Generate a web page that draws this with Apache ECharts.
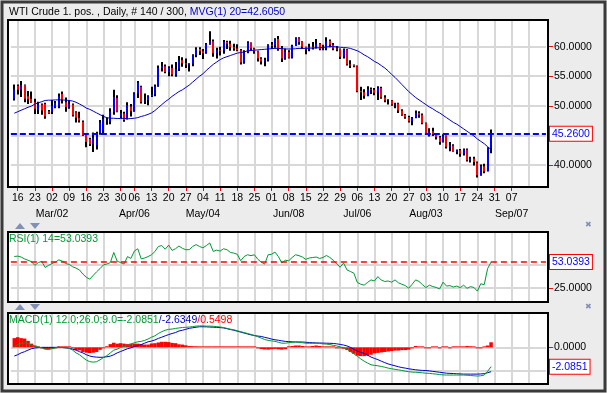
<!DOCTYPE html>
<html><head><meta charset="utf-8">
<script src="https://cdn.jsdelivr.net/npm/echarts@6/dist/echarts.min.js"></script>
<style>html,body{margin:0;padding:0;background:#ececec}#c{width:607px;height:393px}</style>
</head><body><div id="c"></div>
<script>
// ---------- categories (trading days) ----------
const preDate = '02-12';
const dates = ['02-13','02-16','02-17','02-18','02-19','02-20','02-23','02-24','02-25','02-26','02-27',
'03-02','03-03','03-04','03-05','03-06','03-09','03-10','03-11','03-12','03-13','03-16','03-17','03-18','03-19','03-20','03-23','03-24','03-25','03-26','03-27','03-30','03-31',
'04-01','04-02','04-06','04-07','04-08','04-09','04-10','04-13','04-14','04-15','04-16','04-17','04-20','04-21','04-22','04-23','04-24','04-27','04-28','04-29','04-30',
'05-01','05-04','05-05','05-06','05-07','05-08','05-11','05-12','05-13','05-14','05-15','05-18','05-19','05-20','05-21','05-22','05-25','05-26','05-27','05-28','05-29',
'06-01','06-02','06-03','06-04','06-05','06-08','06-09','06-10','06-11','06-12','06-15','06-16','06-17','06-18','06-19','06-22','06-23','06-24','06-25','06-26','06-29','06-30',
'07-01','07-02','07-03','07-06','07-07','07-08','07-09','07-10','07-13','07-14','07-15','07-16','07-17','07-20','07-21','07-22','07-23','07-24','07-27','07-28','07-29','07-30','07-31',
'08-03','08-04','08-05','08-06','08-07','08-10','08-11','08-12','08-13','08-14','08-17','08-18','08-19','08-20','08-21','08-24','08-25','08-26','08-27','08-28'];
const futureDates = ['08-31','09-01','09-02','09-03','09-04','09-07','09-08','09-09','09-10','09-11','09-14','09-15','09-16','09-17','09-18','09-21'];
const weekStarts = ['02-16','02-23','03-02','03-09','03-16','03-23','03-30','04-06','04-13','04-20','04-27','05-04','05-11','05-18','05-25','06-01','06-08','06-15','06-22','06-29','07-06','07-13','07-20','07-27','08-03','08-10','08-17','08-24','08-31','09-07','09-14'];
const monthLabels = {'03-02':'Mar/02','04-06':'Apr/06','05-04':'May/04','06-08':'Jun/08','07-06':'Jul/06','08-03':'Aug/03','09-07':'Sep/07'};

// ---------- price (OHLC) ----------
const open = [51.2,53.4,52.7,53.5,51.6,51.2,50.6,49.3,50.2,50.3,49.1,
49.0,49.8,49.9,52.0,50.6,49.8,50.2,48.9,48.0,47.3,45.1,44.4,43.5,43.3,45.4,45.8,47.5,47.3,49.0,51.3,48.2,48.7,
47.9,49.9,49.1,52.1,53.2,50.8,51.0,51.6,51.9,53.3,56.4,56.7,55.7,56.4,55.3,56.2,57.7,57.2,57.0,57.1,58.6,
59.6,59.2,58.9,60.4,60.9,58.9,59.4,59.3,60.8,60.5,59.9,59.7,59.4,57.3,59.0,60.7,59.7,59.2,58.0,57.5,57.7,
60.3,60.2,61.3,59.6,58.0,59.1,58.1,60.1,61.4,60.8,60.0,59.5,60.0,59.9,60.5,59.6,59.7,61.0,60.3,59.7,59.6,58.3,
59.5,57.0,56.9,56.7,52.5,52.3,51.7,52.8,52.7,52.2,53.0,51.4,50.9,50.9,50.2,50.4,49.2,48.5,48.1,47.4,48.0,48.8,48.5,
47.1,45.2,45.7,45.2,44.7,43.9,45.0,43.1,43.3,42.2,42.5,41.9,42.6,40.8,41.1,40.4,38.3,39.8,39.0,42.9];
const high = [53.6,53.6,54.2,53.6,52.5,52.4,51.2,50.7,50.4,50.5,49.3,
51.0,50.8,52.1,52.4,51.4,51.0,50.4,49.1,49.0,47.5,45.4,44.6,45.5,45.6,47.6,48.5,48.0,49.6,52.7,51.8,49.3,49.0,
50.6,50.3,52.3,54.2,53.4,52.1,51.8,53.2,53.6,56.8,57.4,57.0,56.7,57.0,57.4,58.4,58.2,58.0,57.2,58.7,59.9,
59.9,59.6,60.6,62.6,61.2,59.8,60.0,61.1,61.0,61.0,60.5,60.4,59.6,59.4,60.9,60.7,59.8,59.3,58.2,58.1,60.4,
60.8,61.4,61.8,60.1,59.7,59.4,60.3,61.6,61.6,60.9,60.0,60.5,60.8,61.3,60.6,60.3,61.6,61.2,60.6,60.1,59.7,59.7,
59.6,57.7,57.0,56.8,53.2,52.8,53.3,53.1,53.0,53.3,53.2,51.8,51.1,51.0,50.5,50.5,49.4,48.6,48.3,48.1,49.2,49.1,48.7,
47.2,46.2,46.3,45.3,44.9,45.2,45.0,43.9,43.5,42.6,42.7,42.8,42.8,41.4,41.4,40.6,40.1,40.2,43.0,46.0];
const low = [50.9,51.9,51.5,50.6,50.3,50.5,48.6,48.6,48.5,47.8,48.6,
48.6,49.6,49.6,50.4,49.0,49.5,48.2,47.2,47.2,44.9,43.0,43.2,42.2,42.6,45.1,45.4,46.8,46.9,48.5,48.9,47.9,47.3,
47.7,48.2,49.0,51.3,50.4,50.3,50.1,51.5,51.6,53.2,55.8,55.5,55.0,55.0,54.9,55.9,56.6,56.4,55.8,56.7,58.2,
58.6,57.9,58.8,60.3,58.3,58.0,58.5,58.8,59.6,59.3,59.3,59.2,57.0,57.1,58.9,59.3,58.8,57.5,57.0,56.7,57.5,
59.6,59.8,59.3,57.4,57.8,58.0,58.0,60.1,60.3,59.6,58.7,59.2,59.5,59.7,59.4,59.4,59.4,59.9,59.4,59.2,57.9,58.0,
56.8,56.4,56.5,52.3,51.0,51.2,51.6,52.0,51.8,51.0,51.2,50.6,50.2,50.0,49.6,48.8,48.3,47.8,47.2,46.7,47.9,48.0,46.9,
45.2,44.8,44.9,44.3,43.4,43.8,42.8,42.3,42.2,41.8,41.4,41.6,40.6,40.4,39.9,37.9,38.2,38.6,38.9,42.0];
const close = [52.8,52.7,53.5,51.2,51.1,50.6,49.5,50.2,49.2,48.2,48.7,
50.0,50.5,51.6,51.0,49.8,50.3,48.4,48.0,47.5,45.0,43.9,43.5,44.6,45.1,47.2,47.8,47.7,49.1,51.5,49.0,48.8,47.6,
50.1,49.1,52.1,53.9,50.6,50.9,51.6,51.9,53.3,56.4,56.7,55.7,56.4,55.3,56.2,57.7,57.2,57.0,57.1,58.6,59.6,
59.2,58.9,60.4,60.9,58.9,59.4,59.3,60.8,60.5,59.9,59.7,59.4,57.3,59.0,60.7,59.7,59.2,58.0,57.5,57.7,60.3,
60.2,61.3,59.6,58.0,59.1,58.1,60.1,61.4,60.8,60.0,59.5,60.0,59.9,60.5,59.6,59.7,61.0,60.3,59.7,59.6,58.3,59.5,
57.0,56.9,56.7,52.5,52.3,51.7,52.8,52.7,52.2,53.0,51.4,50.9,50.9,50.2,50.4,49.2,48.5,48.1,47.4,48.0,48.8,48.5,47.1,
45.2,45.7,45.2,44.7,43.9,45.0,43.1,43.3,42.2,42.5,41.9,42.6,40.8,41.1,40.5,38.3,39.8,38.9,42.9,45.26];
const ma20 = [48.75,49.0,49.25,49.5,49.75,49.95,50.3,50.5,50.7,50.9,50.95,
50.95,51.0,51.0,51.0,50.95,50.9,50.8,50.6,50.3,50.0,49.6,49.4,49.1,48.8,48.5,48.2,48.0,47.9,47.9,47.85,47.85,47.9,
47.8,47.85,47.9,48.0,48.2,48.35,48.55,48.8,49.2,49.7,50.2,50.7,51.1,51.6,52.0,52.4,52.7,53.1,53.5,54.0,54.5,
55.0,55.4,56.0,56.5,57.0,57.4,57.8,58.1,58.3,58.5,58.7,58.9,59.0,59.1,59.3,59.35,59.4,59.45,59.5,59.55,59.6,
59.65,59.7,59.7,59.65,59.6,59.6,59.6,59.65,59.7,59.7,59.7,59.75,59.75,59.8,59.8,59.85,59.95,60.0,60.0,59.95,59.9,59.85,
59.8,59.7,59.5,59.3,59.0,58.6,58.3,57.9,57.5,57.2,56.8,56.4,55.9,55.3,54.8,54.2,53.6,53.0,52.4,51.9,51.4,51.0,50.6,
50.2,49.8,49.5,49.1,48.8,48.4,48.0,47.6,47.2,46.9,46.5,46.1,45.7,45.3,44.9,44.4,44.0,43.6,43.1,42.605];
const priceTicks = [40,45,50,55,60];

// ---------- RSI(14) ----------
const rsi = [59.1,59.5,58.5,56.5,55.0,53.5,49.5,52.5,53.8,47.2,49.5,
51.5,53.0,55.5,54.0,51.5,50.5,48.0,46.5,44.5,40.0,36.5,34.5,38.5,42.5,46.0,50.0,51.0,52.5,63.5,54.0,52.5,51.0,
59.0,57.0,65.0,67.5,56.5,57.5,59.0,61.0,64.5,70.0,71.0,67.0,71.5,65.7,67.5,70.5,68.0,66.5,66.5,70.0,72.0,
70.0,68.5,71.0,73.8,64.6,66.0,65.0,67.5,66.5,63.5,62.8,61.5,54.5,59.0,61.0,60.0,61.0,56.0,53.0,50.9,61.0,
61.5,63.9,59.0,52.0,55.0,54.5,58.0,61.0,60.0,58.5,56.0,57.5,58.0,58.5,57.0,58.0,60.2,58.0,55.0,51.0,47.5,52.0,
44.5,42.8,41.0,31.0,29.0,28.0,31.0,33.7,32.5,37.3,33.5,32.0,32.5,31.2,33.7,30.5,29.0,27.5,24.7,29.0,33.7,32.0,28.5,
25.4,28.0,26.5,25.5,23.9,31.2,27.0,27.5,26.0,27.0,25.3,28.0,24.5,26.4,25.5,21.5,29.5,28.5,46.0,53.0393];
const rsiTicks = [25,50];

// ---------- MACD(12,26,9) ----------
const macd = [0.05,0.3,0.4,0.5,0.4,0.25,0.12,0.02,-0.05,-0.2,-0.22,
-0.15,-0.05,0.0,-0.02,-0.05,-0.1,-0.3,-0.6,-0.8,-1.1,-1.38,-1.55,-1.6,-1.56,-1.35,-1.1,-0.9,-0.6,-0.3,-0.2,0.0,0.1,
0.2,0.35,0.5,0.6,0.65,0.75,0.9,1.1,1.25,1.5,1.7,1.85,1.95,1.98,2.05,2.1,2.15,2.17,2.2,2.25,2.3,
2.32,2.32,2.3,2.3,2.28,2.25,2.2,2.15,2.05,1.97,1.9,1.8,1.7,1.6,1.5,1.4,1.28,1.15,1.0,0.85,0.75,
0.7,0.65,0.55,0.45,0.45,0.5,0.55,0.58,0.55,0.5,0.45,0.44,0.44,0.45,0.42,0.38,0.35,0.3,0.22,0.15,0.05,-0.04,
-0.2,-0.45,-0.7,-0.96,-1.25,-1.5,-1.7,-1.89,-1.95,-2.0,-2.07,-2.15,-2.25,-2.32,-2.38,-2.44,-2.5,-2.58,-2.64,-2.68,-2.7,-2.72,-2.76,
-2.8,-2.82,-2.86,-2.9,-2.95,-2.98,-3.0,-3.0,-3.0,-3.0,-3.0,-3.0,-3.02,-3.05,-3.08,-3.11,-3.08,-3.0,-2.6,-2.0851];
const signal = [-0.94,-0.8,-0.6,-0.47,-0.3,-0.15,-0.07,-0.03,0.0,0.0,0.0,
0.0,0.0,0.0,-0.02,-0.05,-0.1,-0.2,-0.3,-0.47,-0.6,-0.8,-0.94,-1.02,-1.06,-1.08,-1.07,-1.02,-0.95,-0.8,-0.6,-0.45,-0.3,
-0.15,-0.05,0.1,0.2,0.3,0.45,0.6,0.68,0.8,0.97,1.1,1.25,1.38,1.5,1.6,1.77,1.85,1.95,2.06,2.12,2.18,
2.23,2.23,2.22,2.2,2.18,2.16,2.14,2.1,2.02,1.93,1.85,1.75,1.65,1.55,1.45,1.35,1.28,1.22,1.18,1.08,1.0,
0.9,0.82,0.77,0.7,0.65,0.62,0.6,0.58,0.58,0.58,0.55,0.52,0.5,0.48,0.47,0.46,0.45,0.44,0.42,0.38,0.32,0.25,
0.15,0.0,-0.2,-0.4,-0.55,-0.65,-0.85,-1.05,-1.2,-1.33,-1.5,-1.65,-1.8,-1.9,-2.0,-2.1,-2.19,-2.25,-2.32,-2.38,-2.43,-2.47,-2.5,
-2.51,-2.55,-2.6,-2.65,-2.7,-2.75,-2.8,-2.82,-2.84,-2.86,-2.88,-2.9,-2.9,-2.9,-2.9,-2.9,-2.88,-2.85,-2.75,-2.6349];
const hist = [1.0,1.1,1.0,0.95,0.7,0.4,0.2,0.05,-0.05,-0.2,-0.22,
-0.15,-0.05,0.0,0.0,0.0,0.0,-0.1,-0.3,-0.33,-0.5,-0.58,-0.61,-0.58,-0.5,-0.27,-0.03,0.12,0.35,0.5,0.4,0.45,0.4,
0.35,0.4,0.4,0.4,0.35,0.3,0.3,0.42,0.45,0.53,0.6,0.6,0.57,0.48,0.45,0.33,0.3,0.22,0.14,0.13,0.12,
0.09,0.09,0.08,0.1,0.1,0.09,0.06,0.05,0.03,0.04,0.05,0.05,0.05,0.05,0.05,0.05,0.0,-0.07,-0.18,-0.23,-0.25,
-0.2,-0.17,-0.22,-0.25,-0.2,0.05,0.15,0.2,0.2,0.15,0.1,0.1,0.15,0.2,0.15,0.1,0.1,0.05,0.0,-0.05,-0.1,-0.15,
-0.3,-0.5,-0.7,-0.9,-0.95,-0.95,-0.9,-0.8,-0.65,-0.6,-0.55,-0.5,-0.45,-0.4,-0.35,-0.35,-0.3,-0.3,-0.25,-0.1,0.15,0.1,0.0,
-0.05,-0.05,0.0,0.02,-0.05,0.05,0.0,-0.03,0.0,0.02,0.0,0.1,0.15,0.12,0.05,-0.05,-0.03,0.02,0.2,0.5498];
const macdTicks = [-2.5,0];

// ---------- build ----------
const cats = [preDate].concat(dates, futureDates);
const weekSet = new Set(weekStarts);
const isWeek = (i, v) => weekSet.has(v);
const FONT = 'Liberation Sans, Arial, sans-serif';
const FS = 10.5;
const n = dates.length;
const last = n - 1;
const pairs = arr => arr.map((v, k) => [k + 1, v]);

const grids = [
  {left: 10.87, width: 535.08, top: 20, height: 167},
  {left: 10.87, width: 535.08, top: 232, height: 70},
  {left: 10.87, width: 535.08, top: 313, height: 71}
];
const gridColor = '#d8d8d8';
function xAx(gi, showLabels) {
  return {
    type: 'category', gridIndex: gi, data: cats, boundaryGap: false,
    axisLine: {show: false},
    axisTick: {show: showLabels, interval: isWeek, length: 4, lineStyle: {color: '#ff0000', width: 1}},
    axisLabel: {show: showLabels, interval: isWeek, margin: 3, fontFamily: FONT, fontSize: FS, color: '#000',
      lineHeight: 16, verticalAlign: 'top',
      formatter: v => monthLabels[v] ? v.slice(3) + '\n' + monthLabels[v] : v.slice(3)},
    splitLine: {show: true, interval: isWeek, lineStyle: {color: gridColor, width: 2}}
  };
}
function yAx(gi, min, max, ticks) {
  return {
    type: 'value', gridIndex: gi, position: 'right', offset: 2, min: min, max: max, scale: true,
    axisLine: {show: false},
    axisTick: {show: true, length: 5, customValues: ticks, lineStyle: {color: '#ff0000', width: 1}},
    axisLabel: {show: true, customValues: ticks, margin: 6, fontFamily: FONT, fontSize: FS, color: '#000',
      formatter: v => v.toFixed(4)},
    splitLine: {show: true, lineStyle: {color: gridColor, width: 2}}
  };
}
function lastLine(val, color, dash, width) {
  return {
    silent: true, symbol: 'none', animation: false,
    lineStyle: {color: color, type: dash, width: width},
    label: {show: true, position: 'end', distance: 4, formatter: val.toFixed(4), fontFamily: FONT, fontSize: FS,
      color: '#0000ff', backgroundColor: '#fff', borderColor: '#ff0000', borderWidth: 1, padding: [2, 2, 1, 2]},
    data: [{yAxis: val}]
  };
}

const option = {
  animation: false,
  backgroundColor: '#ececec',
  grid: grids,
  xAxis: [xAx(0, true), xAx(1, false), xAx(2, false)],
  yAxis: [yAx(0, 36.28, 64.5, priceTicks), yAx(1, 9.7, 85.7, rsiTicks), yAx(2, -3.97, 3.72, macdTicks)],
  series: [
    {
      type: 'custom', xAxisIndex: 0, yAxisIndex: 0,
      data: dates.map((d, k) => [k + 1, open[k], high[k], low[k], close[k]]),
      encode: {x: 0, y: [1, 2, 3, 4]},
      renderItem: function (params, api) {
        const idx = api.value(0);
        const o = api.value(1), h = api.value(2), l = api.value(3), c = api.value(4);
        const ph = api.coord([idx, h]), pl = api.coord([idx, l]);
        const po = api.coord([idx, o]), pc = api.coord([idx, c]);
        const x = Math.round(ph[0]) - 1;
        const col = c > o ? '#0000ff' : (c < o ? '#ff0000' : '#000000');
        const top = Math.min(po[1], pc[1]), bot = Math.max(po[1], pc[1]);
        return {type: 'group', children: [
          {type: 'rect', shape: {x: x, y: ph[1], width: 2, height: pl[1] - ph[1]}, style: {fill: '#000'}},
          {type: 'rect', shape: {x: x, y: top, width: 2, height: Math.max(1, bot - top)}, style: {fill: col}}
        ]};
      }
    },
    {
      type: 'line', xAxisIndex: 0, yAxisIndex: 0, data: pairs(ma20), showSymbol: false, symbol: 'none',
      lineStyle: {color: '#0000cc', width: 1}, z: 3,
      markLine: lastLine(close[last], '#0000ff', [6, 3], 2)
    },
    {
      type: 'line', xAxisIndex: 1, yAxisIndex: 1, data: pairs(rsi), showSymbol: false, symbol: 'none',
      lineStyle: {color: '#009933', width: 1},
      markLine: lastLine(rsi[last], '#ff0000', [6, 4], 1.5)
    },
    {
      type: 'bar', xAxisIndex: 2, yAxisIndex: 2, data: pairs(hist), barWidth: 3.5, barMinHeight: 1,
      itemStyle: {color: '#ff0000'}
    },
    {
      type: 'line', xAxisIndex: 2, yAxisIndex: 2, data: pairs(signal), showSymbol: false, symbol: 'none',
      lineStyle: {color: '#0000cc', width: 1}
    },
    {
      type: 'line', xAxisIndex: 2, yAxisIndex: 2, data: pairs(macd), showSymbol: false, symbol: 'none',
      lineStyle: {color: '#009933', width: 1}, z: 4,
      markLine: lastLine(macd[last], 'rgba(0,0,0,0)', 'solid', 0)
    }
  ],
  graphic: [
    // outer frame
    {type: 'rect', shape: {x: 2, y: 2, width: 603, height: 389}, style: {fill: 'none', stroke: '#3a3a3a', lineWidth: 3}, z: 100, silent: true},
    // panel backgrounds
    {type: 'rect', shape: {x: 8, y: 20, width: 540, height: 167}, style: {fill: '#fff'}, z: -10, silent: true},
    {type: 'rect', shape: {x: 8, y: 232, width: 540, height: 70}, style: {fill: '#fff'}, z: -10, silent: true},
    {type: 'rect', shape: {x: 8, y: 313, width: 540, height: 71}, style: {fill: '#fff'}, z: -10, silent: true},
    // panel frames
    {type: 'rect', shape: {x: 8, y: 20, width: 540, height: 167}, style: {fill: 'none', stroke: '#000', lineWidth: 2}, z: 100, silent: true},
    {type: 'rect', shape: {x: 8, y: 232, width: 540, height: 70}, style: {fill: 'none', stroke: '#000', lineWidth: 2}, z: 100, silent: true},
    {type: 'rect', shape: {x: 8, y: 313, width: 540, height: 71}, style: {fill: 'none', stroke: '#000', lineWidth: 2}, z: 100, silent: true},
    // titles
    {type: 'text', x: 9, y: 7, z: 100, silent: true, style: {
      text: '{a|WTI Crude 1. pos. , Daily, # 140 / 300, }{b|MVG(1) 20=' + ma20[last].toFixed(4) + '}',
      font: FS + 'px ' + FONT, rich: {a: {fill: '#000', font: FS + 'px ' + FONT}, b: {fill: '#0000cc', font: FS + 'px ' + FONT}}}},
    {type: 'text', x: 9, y: 234, z: 100, silent: true, style: {
      text: 'RSI(1) 14=' + rsi[last].toFixed(4), fill: '#009933', font: FS + 'px ' + FONT}},
    {type: 'text', x: 9, y: 315, z: 100, silent: true, style: {
      text: '{g|MACD(1) 12.0;26.0;9.0=' + macd[last].toFixed(4) + '}{b|/' + signal[last].toFixed(4) + '}{r|/' + hist[last].toFixed(4) + '}',
      font: FS + 'px ' + FONT, rich: {g: {fill: '#009933', font: FS + 'px ' + FONT}, b: {fill: '#0000cc', font: FS + 'px ' + FONT}, r: {fill: '#ff0000', font: FS + 'px ' + FONT}}}},
    // separator icons
    {type: 'polygon', shape: {points: [[15, 229], [25, 229], [20, 223]]}, style: {fill: '#8290b4'}, silent: true},
    {type: 'polygon', shape: {points: [[30, 223], [40, 223], [35, 229]]}, style: {fill: '#8290b4'}, silent: true},
    {type: 'polygon', shape: {points: [[15, 310], [25, 310], [20, 304]]}, style: {fill: '#8290b4'}, silent: true},
    {type: 'polygon', shape: {points: [[30, 304], [40, 304], [35, 310]]}, style: {fill: '#8290b4'}, silent: true},
    {type: 'text', x: 585, y: 221, silent: true, style: {text: '✖', fill: '#8290b4', font: 'bold 8px DejaVu Sans'}},
    {type: 'text', x: 585, y: 303, silent: true, style: {text: '✖', fill: '#8290b4', font: 'bold 8px DejaVu Sans'}}
  ]
};
const chart = echarts.init(document.getElementById('c'), null, {renderer: 'canvas'});
chart.setOption(option);
</script></body></html>
